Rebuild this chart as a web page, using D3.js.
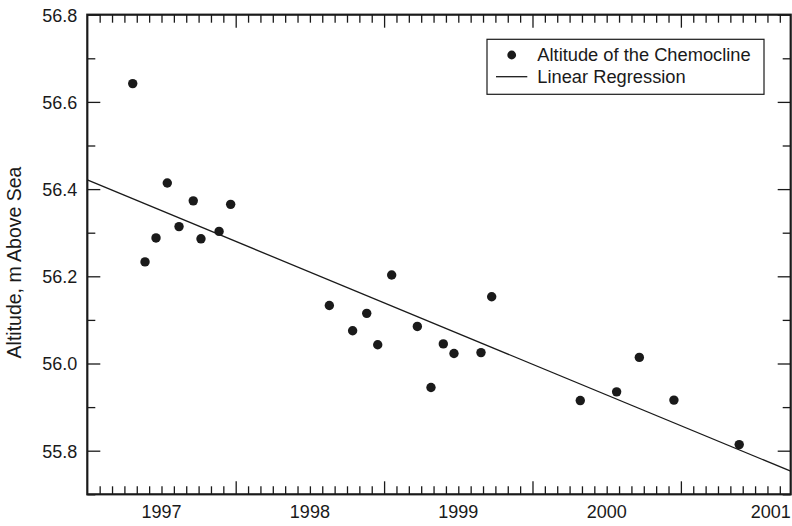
<!DOCTYPE html>
<html>
<head>
<meta charset="utf-8">
<script src="https://cdn.jsdelivr.net/npm/d3@7/dist/d3.min.js"></script>
<style>
  html, body { margin: 0; padding: 0; background: #fff; }
  svg { display: block; font-family: "Liberation Sans", Arial, Helvetica, sans-serif; }
</style>
</head>
<body>
<svg id="chart" width="792" height="526"></svg>
<script>
// ---- data (decimal years, altitude in m above sea) ----
const years = [1997.306, 1997.389, 1997.463, 1997.539, 1997.618, 1997.714, 1997.766, 1997.888, 1997.966,
  1998.631, 1998.788, 1998.883, 1998.957, 1999.051, 1999.224, 1999.316, 1999.399, 1999.471, 1999.653, 1999.725,
  2000.322, 2000.567, 2000.720, 2000.953, 2001.393];
const altitudes = [56.642, 56.233, 56.288, 56.414, 56.314, 56.373, 56.286, 56.303, 56.365,
  56.133, 56.075, 56.115, 56.043, 56.203, 56.085, 55.945, 56.045, 56.023, 56.025, 56.153,
  55.915, 55.935, 56.014, 55.916, 55.814];
const regressionYears = [1997.0, 2001.74];
const regressionAltitudes = [56.421, 55.753];
const yearLabels = [1997, 1998, 1999, 2000, 2001];
const yMajorTicks = [55.8, 56.0, 56.2, 56.4, 56.6, 56.8];
const yMinorTicks = [55.7, 55.9, 56.1, 56.3, 56.5, 56.7];
const legendLabels = ["Altitude of the Chemocline", "Linear Regression"];
const yTitle = "Altitude, m Above Sea";

// ---- layout ----
const pLeft = 87.3, pRight = 790.7, pTop = 14.7, pBottom = 494.3;
const xDomain = [1997.0, 2001.74];
const yDomain = [55.7, 56.8];
const svg = d3.select("#chart");
const x = d3.scaleLinear().domain(xDomain).range([pLeft, pRight]);
const y = d3.scaleLinear().domain(yDomain).range([pBottom, pTop]);

const majorLen = 13, minorLen = 8;
const months = [];
for (let yr = 1997; yr <= 2001; yr++) for (let m = 1; m < 12; m++) {
  const v = yr + m / 12; if (v < xDomain[1]) months.push(v);
}
const yearTicks = [1998, 1999, 2000, 2001];

function styleAxis(g) {
  g.select(".domain").remove();
  g.selectAll(".tick line").attr("stroke", "#1a1a1a").attr("stroke-width", 1.3);
}

// x ticks bottom & top
[[d3.axisBottom, pBottom], [d3.axisTop, pTop]].forEach(([fn, ypos]) => {
  svg.append("g").attr("transform", `translate(0,${ypos})`)
    .call(fn(x).tickValues(months).tickSize(-minorLen).tickFormat(""))
    .call(styleAxis);
  svg.append("g").attr("transform", `translate(0,${ypos})`)
    .call(fn(x).tickValues(yearTicks).tickSize(-majorLen).tickFormat(""))
    .call(styleAxis);
});

// y ticks left & right
[[d3.axisLeft, pLeft], [d3.axisRight, pRight]].forEach(([fn, xpos], i) => {
  svg.append("g").attr("transform", `translate(${xpos},0)`)
    .call(fn(y).tickValues(yMinorTicks).tickSize(-minorLen).tickFormat(""))
    .call(styleAxis);
  const g = svg.append("g").attr("transform", `translate(${xpos},0)`)
    .call(fn(y).tickValues(yMajorTicks).tickSize(-majorLen).tickPadding(10)
      .tickFormat(i === 0 ? d3.format(".1f") : ""))
    .call(styleAxis);
  g.selectAll("text").attr("font-size", 18).attr("fill", "#1a1a1a")
    .attr("font-family", "'Liberation Sans', Arial, sans-serif").attr("dy", "0.36em");
});

// x year labels, centered within each year
svg.append("g").selectAll("text").data(yearLabels).join("text")
  .attr("x", (d, i) => i === yearLabels.length - 1 ? pRight : x(d + 0.5))
  .attr("y", pBottom + 24)
  .attr("text-anchor", (d, i) => i === yearLabels.length - 1 ? "end" : "middle")
  .attr("font-size", 18).attr("fill", "#1a1a1a")
  .text(d => d);

// frame
svg.append("rect").attr("x", pLeft).attr("y", pTop)
  .attr("width", pRight - pLeft).attr("height", pBottom - pTop)
  .attr("fill", "none").attr("stroke", "#1a1a1a").attr("stroke-width", 2.2);

// regression line
const line = d3.line().x(d => x(d[0])).y(d => y(d[1]));
svg.append("path").datum(regressionYears.map((d, i) => [d, regressionAltitudes[i]]))
  .attr("d", line).attr("fill", "none").attr("stroke", "#1a1a1a").attr("stroke-width", 1.3);

// points
svg.append("g").selectAll("circle").data(years.map((d, i) => [d, altitudes[i]])).join("circle")
  .attr("cx", d => x(d[0])).attr("cy", d => y(d[1])).attr("r", 4.7).attr("fill", "#1a1a1a");

// y title
svg.append("text")
  .attr("transform", `translate(21,262.5) rotate(-90)`)
  .attr("text-anchor", "middle").attr("font-size", 19.5).attr("fill", "#1a1a1a")
  .text(yTitle);

// legend
const lg = svg.append("g");
lg.append("rect").attr("x", 487).attr("y", 39.3).attr("width", 277).attr("height", 55)
  .attr("fill", "#fff").attr("stroke", "#1a1a1a").attr("stroke-width", 1.2);
lg.append("circle").attr("cx", 511.7).attr("cy", 55).attr("r", 4.4).attr("fill", "#1a1a1a");
lg.append("line").attr("x1", 496).attr("x2", 527.3).attr("y1", 76.7).attr("y2", 76.7)
  .attr("stroke", "#1a1a1a").attr("stroke-width", 1.3);
lg.selectAll("text.lt").data(legendLabels).join("text").attr("class", "lt")
  .attr("x", 537.3).attr("y", (d, i) => i === 0 ? 60.7 : 83.3)
  .attr("font-size", 18.3).attr("fill", "#1a1a1a").text(d => d);
</script>
</body>
</html>
